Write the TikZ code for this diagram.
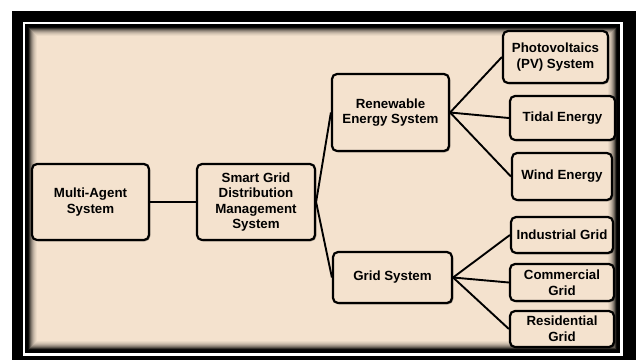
\documentclass[tikz,border=0pt]{standalone}
\usepackage{fontspec}
\setmainfont{Liberation Sans}
\usetikzlibrary{positioning,calc,shadows}

\definecolor{paper}{HTML}{F4E2CE}

\begin{document}
\begin{tikzpicture}[
  x=1pt, y=-1pt,
  font=\fontsize{13.3}{15.6}\selectfont\bfseries,
  sysbox/.style={draw, line width=2.2pt, rounded corners=5pt, fill=paper,
                 align=center, inner sep=2pt,
                 drop shadow={shadow xshift=1.3pt, shadow yshift=-1.3pt,
                              fill=black, opacity=.35}},
  leafbox/.style={sysbox},
  link/.style={line width=1.9pt, black},
]
\useasboundingbox (0,0) rectangle (636,360);

% frame
\fill[white] (0,0) rectangle (636,360);
\fill[black] (12,11) rectangle (636,360);
\fill[white] (22.7,22) rectangle (623,356);
\foreach \i/\p in {0/100,1/100,2/100,3/95,4/78,5/60,6/45,7/33,8/23,9/15,10/9,11/4}
  \fill[black!\p!paper] ($(25,24)+(\i,\i)$) rectangle ($(620,353)-(\i,\i)$);
\fill[paper] (37,36) rectangle (608,341);

% main chain
\node[sysbox, minimum width=117pt, minimum height=76pt] (mas) at (90.5,202)
  {Multi-Agent\\System};
\node[sysbox, minimum width=118pt, minimum height=76pt] (sgdm) at (256,202)
  {Smart Grid\\Distribution\\Management\\System};
\node[sysbox, minimum width=117pt, minimum height=77pt] (res) at (390.5,112.5)
  {Renewable\\Energy System};
\node[sysbox, minimum width=119pt, minimum height=51pt] (grid) at (392.5,277.5)
  {Grid System};

% renewable sources
\node[leafbox, minimum width=105pt, minimum height=52pt] (pv) at (555.5,57)
  {Photovoltaics\\(PV) System};
\node[leafbox, minimum width=105pt, minimum height=44pt] (tidal) at (562.5,118)
  {Tidal Energy};
\node[leafbox, minimum width=100pt, minimum height=47pt] (wind) at (562,176.5)
  {Wind Energy};

% grid consumers
\node[leafbox, minimum width=102pt, minimum height=36pt] (indus) at (562,235)
  {Industrial Grid};
\node[leafbox, minimum width=104pt, minimum height=37pt] (comm) at (562,282.5)
  {Commercial\\Grid};
\node[leafbox, minimum width=104pt, minimum height=36pt] (resid) at (562,329)
  {Residential\\Grid};

\draw[link] (mas) -- (sgdm);
\draw[link] (sgdm.east) -- (res.west);
\draw[link] (sgdm.east) -- (grid.west);
\draw[link] (res.east) -- (pv.west);
\draw[link] (res.east) -- (tidal.west);
\draw[link] (res.east) -- (wind.west);
\draw[link] (grid.east) -- (indus.west);
\draw[link] (grid.east) -- (comm.west);
\draw[link] (grid.east) -- (resid.west);

\end{tikzpicture}
\end{document}
